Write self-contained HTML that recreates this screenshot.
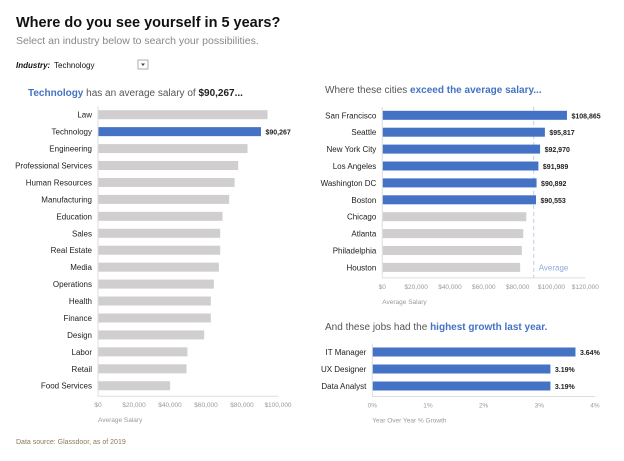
<!DOCTYPE html>
<html><head><meta charset="utf-8"><style>
body{margin:0;background:#fff;}
svg{display:block;font-family:"Liberation Sans",sans-serif;}
</style></head><body>
<svg id="s" width="624" height="461" viewBox="0 0 624 461">
<text x="16" y="27" font-size="14.5" font-weight="bold" fill="#111">Where do you see yourself in 5 years?</text>
<text x="16" y="44" font-size="10.5" fill="#888">Select an industry below to search your possibilities.</text>
<text x="16" y="68" font-size="8" font-weight="bold" font-style="italic" fill="#111">Industry:</text>
<text x="54" y="68" font-size="8" fill="#111">Technology</text>
<rect x="138" y="60" width="10" height="9" fill="#fff" stroke="#999" stroke-width="0.8"/>
<path d="M141 63.5 L145 63.5 L143 66 Z" fill="#444"/>
<text x="28" y="96" font-size="10" fill="#555"><tspan font-weight="bold" fill="#4472C4">Technology</tspan> has an average salary of <tspan font-weight="bold" fill="#222">$90,267...</tspan></text>
<text x="325" y="93" font-size="10" fill="#555">Where these cities <tspan font-weight="bold" fill="#4472C4">exceed the average salary...</tspan></text>
<text x="325" y="330" font-size="10" fill="#555">And these jobs had the <tspan font-weight="bold" fill="#4472C4">highest growth last year.</tspan></text>
<text x="16" y="444" font-size="7" fill="#8a7a5a">Data source: Glassdoor, as of 2019</text>
<g id="g1"></g><g id="g2"></g><g id="g3"></g>
</svg>
<script>
const indCats=["Law","Technology","Engineering","Professional Services","Human Resources","Manufacturing","Education","Sales","Real Estate","Media","Operations","Health","Finance","Design","Labor","Retail","Food Services"];
const indVals=[93900,90267,82800,77600,75600,72600,68900,67600,67600,66900,64100,62400,62400,58700,49400,48900,39800];
const indTicks=[0,20000,40000,60000,80000,100000];
const cityCats=["San Francisco","Seattle","New York City","Los Angeles","Washington DC","Boston","Chicago","Atlanta","Philadelphia","Houston"];
const cityVals=[108865,95817,92970,91989,90892,90553,84800,83000,82200,81200];
const cityTicks=[0,20000,40000,60000,80000,100000,120000];
const cityAvg=89500;
const jobCats=["IT Manager","UX Designer","Data Analyst"];
const jobVals=[3.64,3.19,3.19];
const jobTicks=[0,1,2,3,4];
const NS="http://www.w3.org/2000/svg";
function el(g,t,a,txt){const e=document.createElementNS(NS,t);for(const k in a)e.setAttribute(k,a[k]);if(txt!==undefined)e.textContent=txt;g.appendChild(e);return e;}
const money=v=>"$"+v.toLocaleString("en-US");
function chart(gid,o){
 const g=document.getElementById(gid);
 const x=v=>o.x0+(v-o.min)/(o.max-o.min)*(o.x1-o.x0);
 const y=i=>o.y0+i*o.step;
 const n=o.cats.length;
 const bottom=y(n-1)+o.step/2+2;
 let ax=el(g,"line",{x1:o.x0,x2:o.x0,y1:y(0)-o.step/2,y2:bottom,stroke:"#ddd","stroke-width":1});
 
 
 let bx=el(g,"line",{x1:o.x0,x2:o.x1,y1:bottom,y2:bottom,stroke:"#ddd","stroke-width":1});
 
 
 o.ticks.forEach(t=>{
  let tk=el(g,"text",{x:x(t),y:bottom+11,"font-size":6.5,fill:"#999","text-anchor":"middle"},o.tf(t));
  
  
 });
 let tt=el(g,"text",{x:o.x0,y:bottom+26,"font-size":6.5,fill:"#999"},o.title);
 
 
 if(o.avg!==undefined){
  let l=el(g,"line",{x1:x(o.avg),x2:x(o.avg),y1:y(0)-o.step/2,y2:bottom,stroke:"#c8d4ee","stroke-width":1.2,"stroke-dasharray":"4,3"});
  
  
  let at=el(g,"text",{x:x(o.avg)+5,y:y(n-1)+3,"font-size":8,fill:"#8eaadb"},"Average");
  
  
 }
 o.cats.forEach((c,i)=>{
  let lb=el(g,"text",{x:o.x0-6,y:y(i)+3,"font-size":8,fill:"#222","text-anchor":"end"},c);
  
  
  const hi=o.hi(i);
  let r=el(g,"rect",{x:o.x0+0.5,y:y(i)-o.bh/2,width:x(o.vals[i])-o.x0,height:o.bh,fill:hi?"#4472C4":"#d0cece"});
  
  
  if(hi){
   let v=el(g,"text",{x:x(o.vals[i])+5,y:y(i)+3,"font-size":7,"font-weight":"bold",fill:"#222"},o.vf(o.vals[i]));
   
   
  }
 });
}
chart("g1",{cats:indCats,vals:indVals,ticks:indTicks,min:0,max:100000,x0:98,x1:278,y0:114.7,step:16.94,bh:9,tf:money,vf:money,title:"Average Salary",hi:i=>indCats[i]==="Technology"});
chart("g2",{cats:cityCats,vals:cityVals,ticks:cityTicks,min:0,max:120000,x0:382.3,x1:585.3,y0:115.3,step:16.9,bh:9,tf:money,vf:money,title:"Average Salary",avg:cityAvg,hi:i=>cityVals[i]>cityAvg});
chart("g3",{cats:jobCats,vals:jobVals,ticks:jobTicks,min:0,max:4,x0:372.3,x1:595,y0:352,step:17,bh:9,tf:t=>t+"%",vf:v=>v.toFixed(2)+"%",title:"Year Over Year % Growth",hi:()=>true});
</script>
</body></html>
